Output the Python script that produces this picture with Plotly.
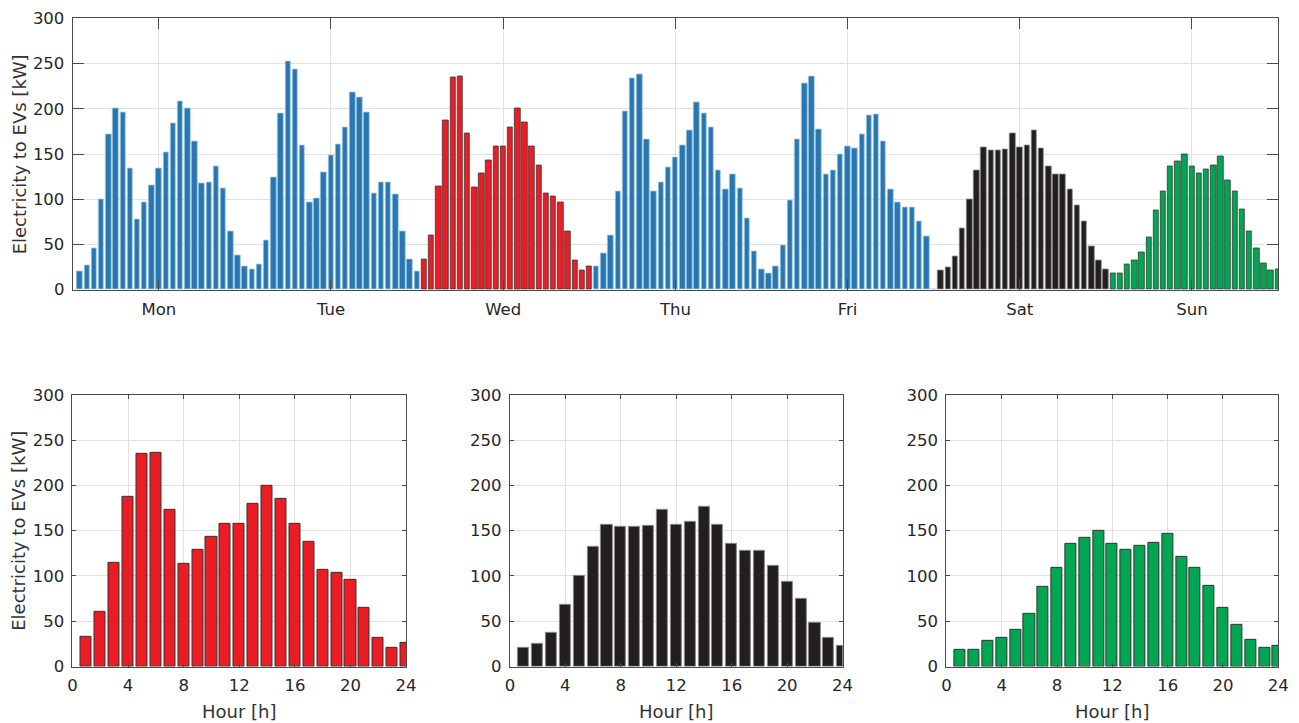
import plotly.graph_objects as go

# hourly EV charging load per weekday [kW], hour 1..24
days = ['Mon', 'Tue', 'Wed', 'Thu', 'Fri', 'Sat', 'Sun']
mon = [20, 27, 46, 100, 172, 201, 196, 134, 78, 96, 115, 134,
       152, 184, 208, 200, 164, 118, 119, 136, 112, 64, 38, 26]
tue = [23, 28, 54, 124, 195, 253, 244, 160, 97, 101, 130, 148,
       161, 180, 218, 213, 196, 107, 119, 119, 105, 65, 33, 20]
wed = [33, 60, 114, 187, 235, 236, 173, 113, 129, 143, 158, 158,
       180, 200, 185, 158, 138, 107, 103, 96, 65, 32, 21, 26]
thu = [26, 40, 60, 109, 197, 234, 238, 166, 109, 119, 135, 146,
       160, 176, 207, 195, 180, 132, 111, 128, 112, 79, 42, 22]
fri = [18, 26, 49, 99, 166, 228, 236, 177, 128, 132, 150, 158,
       156, 172, 193, 194, 164, 111, 97, 91, 91, 75, 59, 0]
sat = [21, 25, 37, 68, 100, 132, 157, 154, 154, 155, 173, 157,
       160, 176, 156, 136, 128, 128, 111, 93, 75, 48, 32, 23]
sun = [18, 18, 28, 32, 41, 58, 88, 109, 136, 142, 150, 136,
       129, 133, 137, 147, 121, 109, 89, 65, 46, 29, 21, 23]
hours = list(range(1, 25))
day_ticks = [12 + 24 * k for k in range(7)]
hour_ticks = [0, 4, 8, 12, 16, 20, 24]

week = [mon, tue, wed, thu, fri, sat, sun]
blue, red, black, green = '#2877b0', '#ec1c24', '#231f20', '#00a651'
fill = [blue, blue, red, blue, blue, black, green]
edge = ['#a9cbe3', '#a9cbe3', '#3a3a3a', '#a9cbe3', '#a9cbe3', '#8a8a8a', '#3a3a3a']

fig = go.Figure()

for d, vals in enumerate(week):
    fig.add_trace(go.Bar(x=[h + 24 * d for h in hours], y=vals, width=0.76,
                         marker=dict(color=fill[d], line=dict(color=edge[d], width=0.8)),
                         xaxis='x', yaxis='y', showlegend=False))

bottom = [(wed, red, '#333333'), (sat, black, '#8a8a8a'), (sun, green, '#333333')]
for k, (vals, c, e) in enumerate(bottom):
    fig.add_trace(go.Bar(x=hours, y=vals, width=0.8,
                         marker=dict(color=c, line=dict(color=e, width=1)),
                         xaxis='x%d' % (k + 2), yaxis='y%d' % (k + 2), showlegend=False))

W, H = 1299, 723


# the page gets photographed slightly shifted/scaled, so map wanted pixel -> figure pixel
def px(p):
    return (p - 12.9) / 0.9895 / W


def py(p):
    return 1 - (p - 16.9) / 0.9726 / H


font = dict(family='DejaVu Sans, Liberation Sans, sans-serif', size=16.5, color='#262626')
axis_style = dict(showline=True, linecolor='#4a4a4a', linewidth=1, mirror='ticks',
                  ticks='inside', tickcolor='#4a4a4a', showgrid=True, gridcolor='#e2e2e2',
                  zeroline=False, tickfont=font)

layout = dict(width=W, height=H, margin=dict(l=0, r=0, t=0, b=0),
              plot_bgcolor='white', paper_bgcolor='white', bargap=0, font=font)

layout['xaxis'] = dict(axis_style, domain=[px(72.7), px(1280.3)], range=[0, 168],
                       tickvals=day_ticks, ticktext=days, ticklen=11, ticklabelstandoff=4,
                       anchor='y')
layout['yaxis'] = dict(axis_style, domain=[py(289.3), py(18.3)], range=[0, 300],
                       dtick=50, ticklen=11, ticklabelstandoff=4, anchor='x')

xdom = [(72.5, 406.7), (510.7, 844.0), (948.0, 1280.5)]
for k, (a, b) in enumerate(xdom):
    n = k + 2
    layout['xaxis%d' % n] = dict(axis_style, domain=[px(a), px(b)], range=[0, 24],
                                 tickvals=hour_ticks, ticklen=4, ticklabelstandoff=4,
                                 anchor='y%d' % n)
    layout['yaxis%d' % n] = dict(axis_style, domain=[py(665.7), py(394.3)],
                                 range=[0, 300], dtick=50, ticklen=4, ticklabelstandoff=4,
                                 anchor='x%d' % n)

title_font = dict(family='DejaVu Sans, Liberation Sans, sans-serif', size=18, color='#333333')
notes = [
    dict(text='Electricity to EVs [kW]', x=px(19), y=py(154), textangle=-90),
    dict(text='Electricity to EVs [kW]', x=px(19), y=py(530), textangle=-90),
]
for a, b in xdom:
    notes.append(dict(text='Hour [h]', x=px((a + b) / 2), y=py(711), textangle=0))
layout['annotations'] = [dict(n, xref='paper', yref='paper', showarrow=False,
                              xanchor='center', yanchor='middle', font=title_font)
                         for n in notes]

fig.update_layout(layout)
fig.write_html('out.html')
